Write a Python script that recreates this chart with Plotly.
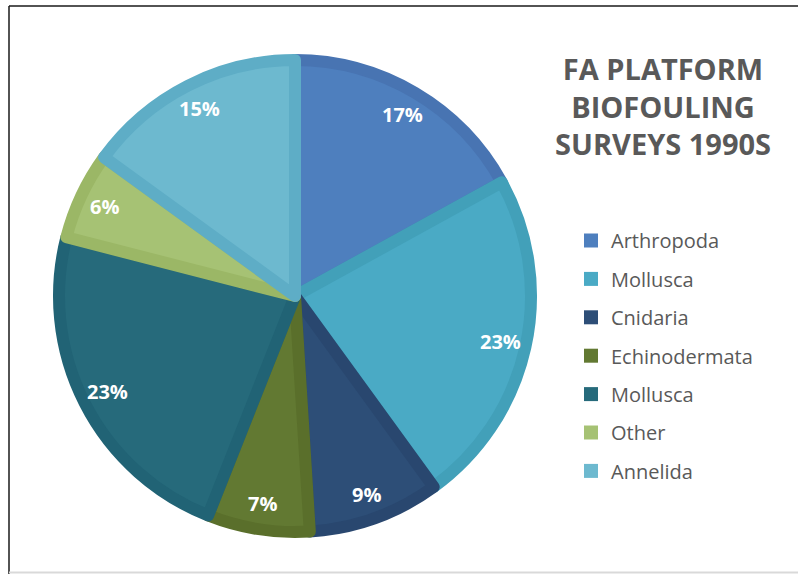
import math
import plotly.graph_objects as go

# Survey composition by phylum (percent of records), clockwise from 12 o'clock
categories = ["Arthropoda", "Mollusca", "Cnidaria", "Echinodermata", "Mollusca", "Other", "Annelida"]
shares = [17, 23, 9, 7, 23, 6, 15]
fill_colors = ["#4e7fbe", "#4aaac5", "#2d4e77", "#627932", "#266a7b", "#a6c274", "#6db9cf"]
edge_colors = ["#4874b2", "#42a0b9", "#29476f", "#5a6f2b", "#216375", "#9bb766", "#5eadc6"]
title_lines = ["FA PLATFORM", "BIOFOULING", "SURVEYS 1990S"]

W, H = 798, 574
CX, CY, R = 295, 296, 242          # pie centre and outer radius, px
EDGE = 12                           # slice border width, px
r_core = R - EDGE / 2

fig = go.Figure()

fig.add_trace(go.Pie(
    values=shares,
    text=categories,
    sort=False,
    direction="clockwise",
    rotation=0,
    marker=dict(colors=fill_colors, line=dict(color=edge_colors, width=EDGE)),
    textinfo="none",
    hovertemplate="%{text}: %{value}%<extra></extra>",
    showlegend=False,
    domain=dict(x=[(CX - r_core) / W, (CX + r_core) / W],
                y=[1 - (CY + r_core) / H, 1 - (CY - r_core) / H]),
))

# Percentage labels near the outer edge of each slice
total = sum(shares)
acc = 0
for v in shares:
    mid = (acc + v / 2) / total * 2 * math.pi
    acc += v
    rl = 0.87 * R
    px = CX + rl * math.sin(mid)
    py = CY - rl * math.cos(mid)
    fig.add_annotation(x=px / W, y=1 - py / H, xref="paper", yref="paper",
                       xanchor="center", yanchor="middle",
                       text=f"<b>{v}%</b>", showarrow=False,
                       font=dict(family="Open Sans", size=20, color="white"))

# Legend entries, one group per category so the spacing can be set
for i, (name, col) in enumerate(zip(categories, fill_colors)):
    fig.add_trace(go.Scatter(
        x=[None], y=[None], mode="markers", name=name,
        legendgroup=f"g{i}",
        marker=dict(symbol="square", size=14, color=col),
    ))

# Chart title
fig.add_annotation(x=663 / W, y=1 - 105.5 / H, xref="paper", yref="paper",
                   xanchor="center", yanchor="middle",
                   text="<b>" + "<br>".join(title_lines) + "</b>",
                   showarrow=False, align="center",
                   font=dict(family="Open Sans", size=29, color="#595959"))

# Frame lines
fig.add_shape(type="line", xref="paper", yref="paper", x0=9 / W, x1=1, y0=1 - 6 / H, y1=1 - 6 / H,
              line=dict(color="#1a1a1a", width=1.5))
fig.add_shape(type="line", xref="paper", yref="paper", x0=9 / W, x1=9 / W, y0=0, y1=1 - 6 / H,
              line=dict(color="#1a1a1a", width=1.5))
fig.add_shape(type="line", xref="paper", yref="paper", x0=9 / W, x1=1, y0=1.5 / H, y1=1.5 / H,
              line=dict(color="#d9d9d9", width=2))

fig.update_layout(
    width=W, height=H,
    margin=dict(l=0, r=0, t=0, b=0),
    paper_bgcolor="white", plot_bgcolor="white",
    xaxis=dict(visible=False), yaxis=dict(visible=False),
    legend=dict(x=571 / W, y=1 - 221 / H, xanchor="left", yanchor="top",
                font=dict(family="Open Sans", size=20, color="#595959"),
                tracegroupgap=9.4, bgcolor="rgba(0,0,0,0)"),
)

fig.write_html("out.html")
